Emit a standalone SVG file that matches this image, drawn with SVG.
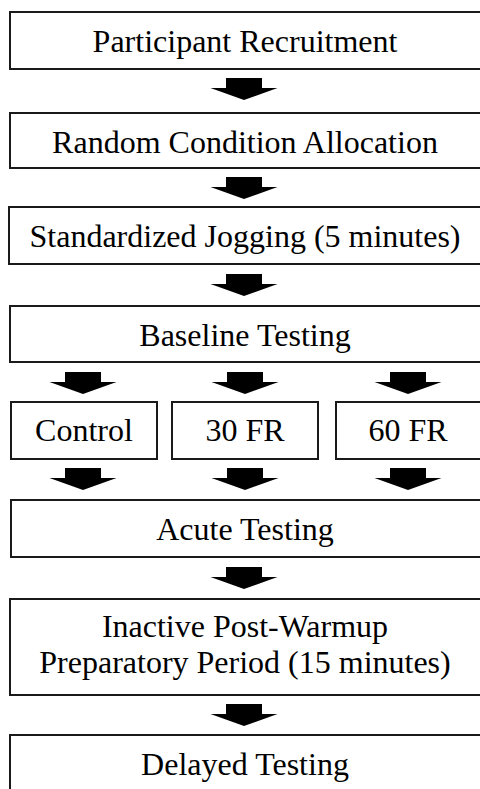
<svg xmlns="http://www.w3.org/2000/svg" width="480" height="789" viewBox="0 0 480 789">
<style>
.box{fill:#fff;stroke:#1a1a1a;stroke-width:2}
.t{font-family:"Liberation Serif","Times New Roman",serif;font-size:32px;fill:#000;text-anchor:middle}
.arr{fill:#000}
</style>
<defs>
<path id="arrow" d="M-18,0 H18 V10 H33.5 L0,22 L-33.5,10 H-18 Z"/>
</defs>
<rect width="480" height="789" fill="#fff"/>
<g id="n1"><rect class="box" x="10" y="12" width="480" height="57"/><text class="t" x="245" y="52">Participant Recruitment</text></g>
<g id="n2"><rect class="box" x="10" y="113" width="480" height="55"/><text class="t" x="245" y="153">Random Condition Allocation</text></g>
<g id="n3"><rect class="box" x="9" y="207" width="480" height="57"/><text class="t" x="245" y="247">Standardized Jogging (5 minutes)</text></g>
<g id="n4"><rect class="box" x="10" y="306" width="480" height="56"/><text class="t" x="245" y="346">Baseline Testing</text></g>
<g id="n5"><rect class="box" x="11" y="402" width="146" height="57"/><text class="t" x="84" y="441">Control</text></g>
<g id="n6"><rect class="box" x="172" y="402" width="146" height="57"/><text class="t" x="245" y="441">30 FR</text></g>
<g id="n7"><rect class="box" x="336" y="402" width="150" height="57"/><text class="t" x="408" y="441">60 FR</text></g>
<g id="n8"><rect class="box" x="11" y="500" width="480" height="57"/><text class="t" x="245" y="540">Acute Testing</text></g>
<g id="n9"><rect class="box" x="10" y="599" width="480" height="96"/><text class="t" x="245" y="637">Inactive Post-Warmup</text><text class="t" x="245" y="673">Preparatory Period (15 minutes)</text></g>
<g id="n10"><rect class="box" x="10" y="735" width="480" height="70"/><text class="t" x="245" y="775">Delayed Testing</text></g>
<g id="connectors" class="arr">
<use href="#arrow" x="244" y="78"/>
<use href="#arrow" x="244" y="177"/>
<use href="#arrow" x="244" y="274"/>
<use href="#arrow" x="83" y="372"/>
<use href="#arrow" x="245" y="372"/>
<use href="#arrow" x="408" y="372"/>
<use href="#arrow" x="83" y="468"/>
<use href="#arrow" x="245" y="468"/>
<use href="#arrow" x="408" y="468"/>
<use href="#arrow" x="244" y="567"/>
<use href="#arrow" x="244" y="704"/>
</g>
</svg>
